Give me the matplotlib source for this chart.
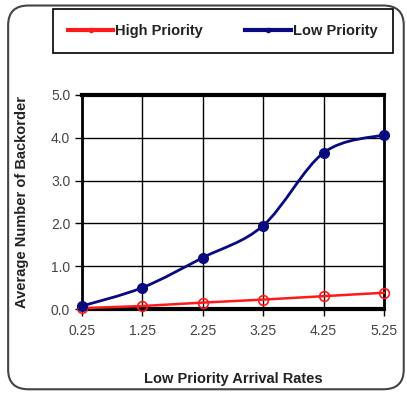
import matplotlib.pyplot as plt
import numpy as np
from matplotlib.path import Path
from matplotlib.patches import PathPatch, FancyBboxPatch
from matplotlib.lines import Line2D

plt.rcParams['font.family'] = ['Liberation Sans', 'DejaVu Sans']

rates = ['0.25', '1.25', '2.25', '3.25', '4.25', '5.25']
high_priority = [0.02, 0.07, 0.15, 0.22, 0.30, 0.38]
low_priority = [0.07, 0.50, 1.20, 1.95, 3.65, 4.07]

BLUE = '#0a0a80'
RED = '#ff1a1a'


def smooth_path(xs, ys):
    # cubic bezier through the points, control points from neighbours
    pts = np.column_stack([xs, ys])
    verts = [pts[0]]
    codes = [Path.MOVETO]
    n = len(pts)
    for i in range(n - 1):
        p0 = pts[max(i - 1, 0)]
        p1 = pts[i]
        p2 = pts[i + 1]
        p3 = pts[min(i + 2, n - 1)]
        c1 = p1 + (p2 - p0) / 6.0
        c2 = p2 - (p3 - p1) / 6.0
        verts += [c1, c2, p2]
        codes += [Path.CURVE4] * 3
    return Path(verts, codes)


fig = plt.figure(figsize=(4.07, 3.94), dpi=100)
fig.patch.set_facecolor('white')

# rounded outer frame
frame = FancyBboxPatch((0.02, 0.012), 0.972, 0.974,
                       boxstyle='round,pad=0,rounding_size=0.05',
                       transform=fig.transFigure, facecolor='none',
                       edgecolor='#444444', linewidth=1.5, zorder=0)
fig.patches.append(frame)

ax = fig.add_axes([0.2015, 0.2157, 0.742, 0.5432])
x = np.arange(len(rates))

ax.plot(x, high_priority, color=RED, lw=1.8, marker='o', ms=7,
        mfc='none', mec=RED, mew=1.2, zorder=3, clip_on=False)
ax.add_patch(PathPatch(smooth_path(x, low_priority), facecolor='none',
                       edgecolor=BLUE, lw=2.0, zorder=4, clip_on=False))
ax.plot(x, low_priority, ls='none', marker='o', ms=7, color=BLUE, zorder=5,
        clip_on=False)

ax.set_xlim(0, len(rates) - 1)
ax.set_ylim(0, 5)
ax.set_xticks(x)
ax.set_xticklabels(rates)
ax.set_yticks(np.arange(0, 5.1, 1.0))
ax.set_yticklabels([f'{v:.1f}' for v in np.arange(0, 5.1, 1.0)])
ax.grid(True, color='black', lw=1.0)
ax.set_axisbelow(True)
for side in ['top', 'bottom']:
    ax.spines[side].set_linewidth(3)
for side in ['left', 'right']:
    ax.spines[side].set_linewidth(2)
ax.tick_params(axis='both', labelsize=10, colors='black', labelcolor='#444444',
               length=5, width=1)
ax.tick_params(axis='x', pad=6)

ax.set_xlabel('Low Priority Arrival Rates', fontsize=10.5, fontweight='bold',
              color='#222222', labelpad=24)
ax.set_ylabel('Average Number of Backorder', fontsize=10.5, fontweight='bold',
              color='#222222', labelpad=16)

handles = [Line2D([], [], color=RED, lw=3, marker='o', ms=3, mfc='none', mec=RED),
           Line2D([], [], color=BLUE, lw=3, marker='o', ms=3)]
leg = fig.legend(handles, ['High Priority', 'Low Priority'], loc='center',
                 bbox_to_anchor=(0.547, 0.921), ncol=2, fancybox=False,
                 edgecolor='black', framealpha=1, handlelength=3.1,
                 handletextpad=0.15, columnspacing=2.9, borderpad=1.05,
                 prop={'size': 10.5, 'weight': 'bold'})
leg.get_frame().set_linewidth(1.2)
for t in leg.get_texts():
    t.set_color('#222222')

fig.savefig('out.png', dpi=100)
